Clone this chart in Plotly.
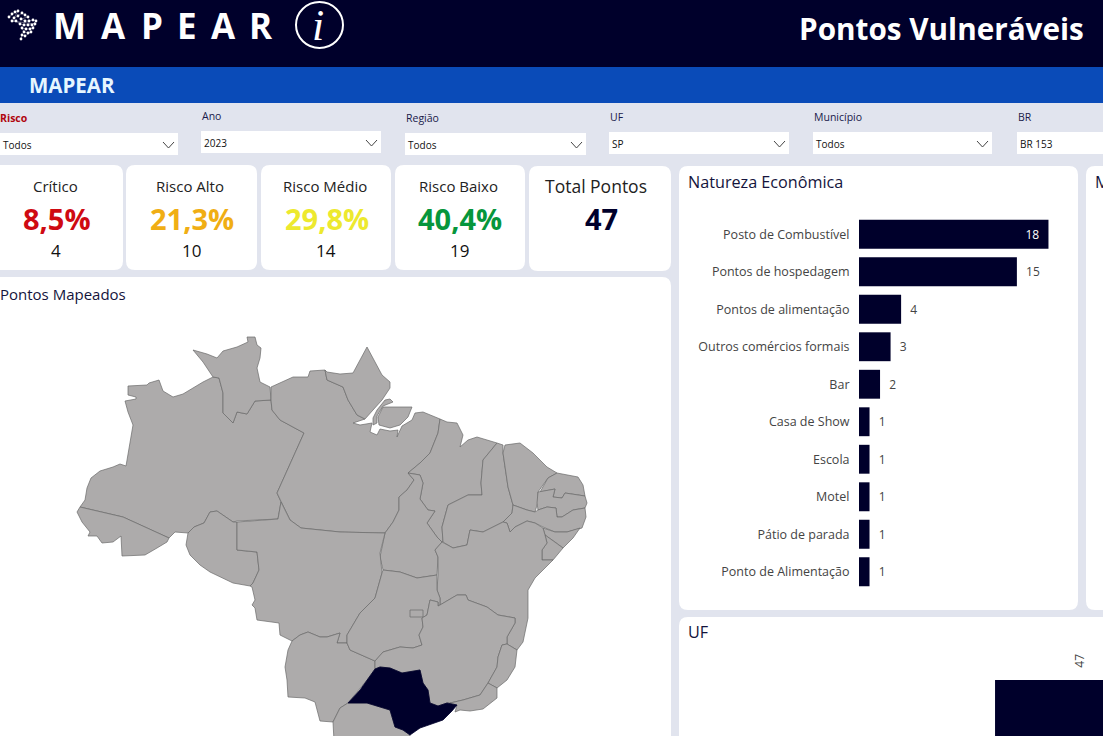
import plotly.graph_objects as go

W = 1103
H = 736
NAVY = '#00002B'
GREY = '#ADABAB'
FONT = 'Open Sans'
NBSP = '\u00a0'

# natureza economica
natureza = ['Posto de Combustível', 'Pontos de hospedagem', 'Pontos de alimentação',
            'Outros comércios formais', 'Bar', 'Casa de Show', 'Escola', 'Motel',
            'Pátio de parada', 'Ponto de Alimentação']
natureza_val = [18, 15, 4, 3, 2, 1, 1, 1, 1, 1]

# bar UF
uf = ['SP']
uf_val = [47]

# KPI cards
kpi_title = ['Crítico', 'Risco Alto', 'Risco Médio', 'Risco Baixo']
kpi_pct = ['8,5%', '21,3%', '29,8%', '40,4%']
kpi_count = [4, 10, 14, 19]
kpi_color = ['#CF0A12', '#F0AE14', '#EDE92E', '#06963C']
total_pontos = 47

# filters
filtro_nome = ['Risco', 'Ano', 'Região', 'UF', 'Município', 'BR']
filtro_valor = ['Todos', '2023', 'Todos', 'SP', 'Todos', 'BR 153']

# header wordmark, widely spaced letters
marca = ['M', 'A', 'P', 'E', 'A', 'R']
marca_x = [69.5, 113, 151.5, 186.5, 223, 261]

# state outlines
AM = [(128, 386), (147, 385), (149, 383), (159, 380), (163, 391), (173, 397), (183, 394), (193, 388), (203, 382),
      (213, 377), (219, 378), (223, 393), (223, 413), (233, 423), (237, 412), (247, 414), (255, 401), (271, 400),
      (272, 410), (280, 420), (304, 433), (277, 493), (281, 502), (278, 519), (237, 521), (233, 522), (223, 515),
      (217, 511), (210, 512), (204, 523), (194, 527), (188, 533), (175, 532), (169, 538), (123, 517), (80, 507),
      (85, 500), (87, 488), (91, 478), (100, 471), (113, 467), (120, 464), (126, 466), (133, 425), (128, 412),
      (125, 401), (136, 399), (136, 397), (128, 395)]
AC = [(80, 507), (123, 517), (169, 538), (167, 542), (157, 548), (145, 555), (122, 556), (121, 536), (113, 542),
      (102, 543), (97, 536), (88, 536), (90, 532), (82, 522), (77, 512)]
RR = [(193, 350), (207, 354), (217, 358), (223, 351), (237, 347), (248, 342), (247, 337), (255, 337), (257, 345),
      (261, 348), (260, 358), (257, 368), (260, 382), (270, 387), (271, 400), (255, 401), (247, 414), (237, 412),
      (233, 423), (223, 413), (223, 393), (219, 378), (213, 377), (203, 362)]
RO = [(188, 533), (194, 527), (204, 523), (210, 512), (217, 511), (223, 515), (233, 522), (237, 522), (237, 550),
      (257, 552), (259, 570), (253, 583), (250, 586), (233, 583), (220, 577), (210, 572), (200, 565), (190, 555),
      (186, 545)]
PA = [(271, 387), (280, 383), (293, 377), (308, 377), (310, 371), (325, 370), (327, 380), (343, 387), (348, 400),
      (357, 415), (365, 419), (353, 423), (360, 425), (372, 423), (370, 432), (377, 435), (380, 429), (390, 431),
      (398, 430), (397, 437), (402, 426), (412, 420), (415, 413), (423, 412), (440, 419), (438, 433), (430, 453),
      (420, 463), (408, 473), (414, 480), (407, 490), (399, 497), (399, 510), (393, 522), (385, 533), (340, 532),
      (301, 528), (290, 520), (281, 502), (277, 493), (304, 433), (280, 420), (272, 410), (271, 400)]
MARAJO = [(378, 417), (383, 407), (412, 407), (408, 417), (400, 425), (390, 428), (379, 425)]
ILHAS = [(373, 418), (377, 410), (385, 400), (390, 399), (393, 402), (383, 406), (377, 416), (377, 423), (373, 425)]
AP = [(325, 370), (327, 380), (343, 387), (348, 400), (357, 415), (365, 419), (373, 410), (382, 400), (390, 388),
      (390, 382), (382, 375), (375, 362), (367, 347), (360, 360), (353, 373), (340, 374), (327, 372)]
MA = [(440, 419), (438, 433), (430, 453), (420, 463), (408, 473), (420, 475), (423, 483), (420, 499), (428, 510),
      (435, 511), (427, 523), (437, 537), (442, 542), (443, 542), (442, 527), (448, 505), (468, 495), (482, 495),
      (481, 483), (483, 460), (497, 443), (487, 440), (477, 437), (468, 440), (460, 447), (463, 435), (457, 423),
      (447, 422)]
TO = [(408, 473), (420, 475), (423, 483), (420, 499), (428, 510), (435, 511), (427, 523), (437, 537), (442, 542),
      (435, 550), (438, 557), (437, 575), (417, 578), (400, 572), (383, 570), (380, 557), (385, 533), (393, 522),
      (399, 510), (399, 497), (407, 490), (414, 480)]
PI = [(497, 443), (483, 460), (481, 483), (482, 495), (468, 495), (448, 505), (442, 527), (443, 542), (453, 548),
      (467, 545), (470, 530), (483, 532), (503, 522), (512, 513), (513, 505), (508, 487), (503, 453), (503, 445)]
CE = [(505, 445), (520, 443), (533, 453), (547, 467), (557, 473), (548, 478), (538, 492), (538, 502), (535, 512),
      (527, 510), (513, 505), (508, 487), (503, 453)]
RN = [(557, 473), (578, 477), (583, 485), (585, 496), (565, 493), (562, 498), (553, 497), (555, 489), (540, 492),
      (548, 478)]
PB = [(538, 492), (555, 489), (553, 497), (562, 498), (565, 493), (585, 496), (587, 503), (585, 508), (573, 510),
      (562, 517), (557, 517), (556, 508), (547, 507), (538, 510), (537, 503)]
PE = [(513, 505), (527, 510), (535, 512), (538, 510), (547, 507), (556, 508), (557, 517), (562, 517), (573, 510),
      (585, 508), (586, 517), (582, 528), (567, 532), (555, 532), (543, 527), (535, 523), (527, 521), (515, 527),
      (510, 532), (507, 523), (503, 522), (512, 513)]
AL = [(543, 528), (555, 532), (567, 532), (580, 528), (573, 538), (563, 548), (555, 542), (545, 535)]
SE = [(545, 535), (555, 542), (563, 548), (553, 560), (542, 560), (542, 550), (547, 543)]
BA = [(442, 542), (453, 548), (467, 545), (470, 530), (483, 532), (503, 522), (507, 523), (510, 532), (515, 527),
      (527, 521), (535, 523), (543, 528), (545, 535), (547, 543), (542, 550), (542, 560), (553, 560), (540, 573),
      (535, 578), (528, 590), (528, 618), (523, 642), (517, 650), (507, 644), (507, 637), (515, 623), (515, 618),
      (498, 615), (487, 607), (468, 600), (466, 595), (457, 595), (440, 605), (440, 598), (437, 590), (438, 575),
      (438, 557), (435, 550)]
MT = [(237, 522), (278, 519), (281, 502), (290, 520), (301, 528), (340, 532), (385, 533), (380, 553), (382, 573),
      (375, 598), (360, 613), (347, 635), (347, 643), (337, 643), (340, 633), (327, 637), (320, 637), (308, 632),
      (300, 635), (292, 641), (280, 635), (279, 623), (257, 620), (255, 608), (252, 605), (255, 600), (252, 587),
      (250, 586), (253, 583), (259, 570), (257, 552), (237, 550)]
MS = [(292, 641), (300, 635), (308, 632), (320, 637), (327, 637), (340, 633), (337, 643), (347, 643), (350, 650),
      (375, 661), (375, 669), (367, 680), (348, 703), (340, 708), (333, 722), (320, 721), (315, 702), (305, 698),
      (288, 697), (287, 680), (285, 667), (288, 650)]
GO = [(382, 573), (383, 570), (400, 572), (417, 578), (437, 575), (437, 590), (440, 598), (440, 605), (438, 606),
      (438, 602), (430, 600), (427, 615), (422, 618), (423, 627), (419, 635), (422, 645), (413, 648), (400, 647),
      (383, 652), (376, 660), (375, 661), (350, 650), (347, 643), (347, 635), (360, 613), (375, 598)]
DF = [(410, 610), (423, 610), (423, 617), (410, 617)]
MG = [(440, 605), (457, 595), (466, 595), (468, 600), (487, 607), (498, 615), (515, 618), (515, 623), (507, 637),
      (507, 644), (502, 645), (498, 657), (497, 667), (488, 683), (480, 695), (463, 700), (450, 703), (447, 703),
      (438, 706), (430, 703), (428, 690), (423, 683), (420, 670), (402, 673), (390, 668), (380, 667), (375, 669),
      (375, 661), (376, 660), (383, 652), (400, 647), (413, 648), (422, 645), (419, 635), (423, 627), (422, 618),
      (427, 615), (430, 600), (438, 602), (438, 606)]
ES = [(502, 645), (507, 644), (517, 650), (515, 667), (507, 680), (497, 688), (488, 683), (497, 667), (498, 657)]
RJ = [(488, 683), (497, 688), (497, 698), (483, 709), (470, 711), (460, 710), (455, 712), (457, 705), (450, 703),
      (463, 700), (480, 695)]
PR = [(348, 703), (367, 703), (390, 710), (395, 727), (403, 730), (410, 735), (408, 760), (335, 760), (333, 722),
      (340, 708)]
SP = [(375, 669), (380, 667), (390, 668), (402, 673), (420, 670), (423, 683), (428, 690), (430, 703), (438, 706),
      (447, 703), (457, 705), (452, 711), (443, 720), (420, 728), (410, 735), (403, 730), (395, 727), (390, 710),
      (367, 703), (348, 703), (360, 690), (367, 680)]
estados = [AM, AC, RR, RO, PA, MARAJO, ILHAS, AP, MA, TO, PI, CE, RN, PB, PE, AL, SE, BA, MT, MS, GO, DF, MG, ES, RJ, PR]
selecionados = [SP]

# little brazil logo in the header, a net of dots
LOGO = [(9, 17), (12, 14), (15, 12), (18, 11), (14, 18), (18, 16), (22, 13), (25, 15), (28, 17), (21, 19), (25, 21),
        (29, 21), (33, 20), (36, 21), (32, 25), (28, 25), (24, 25), (20, 24), (16, 21), (12, 21), (35, 24), (33, 28),
        (30, 29), (26, 29), (22, 28), (24, 32), (28, 33), (31, 32), (25, 36), (22, 35), (21, 39)]


def px(x):
    return x / W


def py(y):
    return 1 - y / H


def rounded(x0, y0, x1, y1, r=9):
    X0, X1 = px(x0), px(x1)
    Y0, Y1 = py(y0), py(y1)
    rx, ry = r / W, r / H
    return (f'M {X0 + rx} {Y0} L {X1 - rx} {Y0} Q {X1} {Y0} {X1} {Y0 - ry} '
            f'L {X1} {Y1 + ry} Q {X1} {Y1} {X1 - rx} {Y1} '
            f'L {X0 + rx} {Y1} Q {X0} {Y1} {X0} {Y1 + ry} '
            f'L {X0} {Y0 - ry} Q {X0} {Y0} {X0 + rx} {Y0} Z')


def card(x0, y0, x1, y1):
    return dict(type='path', path=rounded(x0, y0, x1, y1), xref='paper', yref='paper',
                fillcolor='white', line_width=0, layer='below')


def band(y0, y1, color):
    return dict(type='rect', x0=0, x1=1, y0=py(y1), y1=py(y0), xref='paper', yref='paper',
                fillcolor=color, line_width=0, layer='below')


def text(x, y, s, size, color='#222222', anchor='center', family=FONT):
    return dict(x=px(x), y=py(y), xref='paper', yref='paper', text=s, showarrow=False, borderpad=0, borderwidth=0,
                xanchor=anchor, yanchor='middle', font=dict(size=size, color=color, family=family))


shapes = [band(0, 67, NAVY), band(67, 103, '#0A4BB8'), band(103, 736, '#E1E4EE')]
annotations = []

# header
shapes.append(dict(type='circle', x0=px(296), x1=px(343), y0=py(48), y1=py(2), xref='paper', yref='paper',
                   line=dict(color='white', width=2), layer='above'))
for i in range(len(marca)):
    annotations.append(text(marca_x[i], 26, '<b>' + marca[i] + '</b>', 35, 'white'))
annotations.append(text(318, 26, '<i>i</i>', 44, 'white', family='Liberation Serif'))
annotations.append(text(1084, 29, '<b>Pontos Vulneráveis</b>', 29.7, 'white', 'right'))
annotations.append(text(29, 85, '<b>MAPEAR</b>', 20.5, '#E6F6FF', 'left'))

# filters
filtro_x = [0, 201, 405, 609, 813, 1017]
filtro_y = [133, 131, 133, 132, 132, 132]
filtro_w = [178, 180, 181, 180, 179, 179]
for i in range(len(filtro_nome)):
    x0 = filtro_x[i]
    y0 = filtro_y[i]
    x1 = x0 + filtro_w[i]
    nome = filtro_nome[i]
    if nome == 'Risco':
        annotations.append(text(x0, y0 - 15, '<b>' + nome + '</b>', 10.5, '#B0070F', 'left'))
    else:
        annotations.append(text(x0 + 1, y0 - 15, nome, 10.5, '#1A1A4A', 'left'))
    shapes.append(dict(type='rect', x0=px(x0), x1=px(x1), y0=py(y0 + 22), y1=py(y0), xref='paper', yref='paper',
                       fillcolor='white', line_width=0, layer='below'))
    annotations.append(text(x0 + 3, y0 + 12, filtro_valor[i], 10, '#111111', 'left'))
    shapes.append(dict(type='path', xref='paper', yref='paper', layer='above',
                       path=f'M {px(x1 - 15)} {py(y0 + 9)} L {px(x1 - 9.5)} {py(y0 + 15)} L {px(x1 - 4)} {py(y0 + 9)}',
                       line=dict(color='#444444', width=1)))

# KPI cards
card_x = [(-8, 123), (126, 257), (261, 391), (395, 525)]
kpi_cx = [56, 191, 326, 459]
for i in range(4):
    shapes.append(card(card_x[i][0], 165, card_x[i][1], 270))
    annotations.append(text(kpi_cx[i] - 1, 186, kpi_title[i], 15))
    annotations.append(text(kpi_cx[i] + 1, 218, '<b>' + kpi_pct[i] + '</b>', 29, kpi_color[i]))
    annotations.append(text(kpi_cx[i], 250, str(kpi_count[i]), 17, '#111111'))
shapes.append(card(529, 166, 671, 271))
annotations.append(text(596, 186, 'Total Pontos', 17.5))
annotations.append(text(601, 218, '<b>' + str(total_pontos) + '</b>', 29, NAVY))

# panels
shapes.append(card(-8, 277, 671, 760))
shapes.append(card(679, 166, 1078, 610))
shapes.append(card(1086, 166, 1130, 610))
shapes.append(card(679, 617, 1130, 760))
annotations.append(text(0, 294, 'Pontos Mapeados', 15, '#14143C', 'left'))
annotations.append(text(688, 182, 'Natureza Econômica', 16.2, '#14143C', 'left'))
annotations.append(text(688, 632, 'UF', 16.2, '#14143C', 'left'))
annotations.append(text(1095, 182, 'M', 16.2, '#14143C', 'left'))

fig = go.Figure()

# map, drawn in picture coordinates
for est in estados:
    fig.add_trace(go.Scatter(x=[p[0] for p in est] + [est[0][0]], y=[p[1] for p in est] + [est[0][1]],
                             mode='lines', fill='toself', fillcolor=GREY,
                             line=dict(color='#6A6A6A', width=0.7), hoverinfo='skip'))
for est in selecionados:
    fig.add_trace(go.Scatter(x=[p[0] for p in est] + [est[0][0]], y=[p[1] for p in est] + [est[0][1]],
                             mode='lines', fill='toself', fillcolor=NAVY,
                             line=dict(color=NAVY, width=0.8), hoverinfo='skip'))
fig.add_trace(go.Scatter(x=[p[0] for p in LOGO], y=[p[1] for p in LOGO], mode='lines+markers',
                         marker=dict(color='white', size=2.8), line=dict(color='rgba(255,255,255,0.5)', width=0.7),
                         hoverinfo='skip'))

# value labels sit further from the bars than plotly's default pad
rotulos = [str(natureza_val[0]) + NBSP + NBSP] + [NBSP + NBSP + str(v) for v in natureza_val[1:]]
fig.add_trace(go.Bar(x=natureza_val, y=natureza, orientation='h', xaxis='x2', yaxis='y2',
                     marker=dict(color=NAVY, line_width=0), width=0.77,
                     text=rotulos, cliponaxis=False, constraintext='none',
                     textposition=['inside'] + ['outside'] * 9,
                     textfont=dict(size=12, family=FONT,
                                   color=['white'] + ['#444444'] * 9)))
fig.add_trace(go.Bar(x=uf, y=uf_val, xaxis='x3', yaxis='y3', marker=dict(color=NAVY, line_width=0), width=0.8,
                     text=[NBSP + NBSP + NBSP + str(v) for v in uf_val], textposition='outside', textangle=-90,
                     cliponaxis=False, textfont=dict(size=12, family=FONT, color='#444444')))

fig.update_layout(
    width=W, height=H, margin=dict(l=0, r=0, t=0, b=0), showlegend=False,
    paper_bgcolor='#E1E4EE', plot_bgcolor='rgba(0,0,0,0)',
    shapes=shapes, annotations=annotations,
    xaxis=dict(range=[0, W], domain=[0, 1], visible=False, fixedrange=True),
    yaxis=dict(range=[H, 0], domain=[0, 1], visible=False, fixedrange=True),
    xaxis2=dict(domain=[px(859), px(1059)], range=[0, 19], anchor='y2', visible=False),
    yaxis2=dict(domain=[py(590.5), py(215.5)], anchor='x2', autorange='reversed', type='category',
                categoryorder='array', categoryarray=natureza, showline=False, showgrid=False,
                ticks='outside', ticklen=6, tickcolor='rgba(0,0,0,0)',
                tickfont=dict(size=12.5, family=FONT, color='#444444')),
    xaxis3=dict(domain=[px(680), 1], range=[-1.9, 0.114], anchor='y3', visible=False, type='category'),
    yaxis3=dict(domain=[0, py(680)], range=[40, 47], anchor='x3', visible=False),
)

# the page keeps the browser's 8px body margin otherwise
fig.write_html("out.html", config={'displayModeBar': False}, post_script="document.body.style.margin='0';")
